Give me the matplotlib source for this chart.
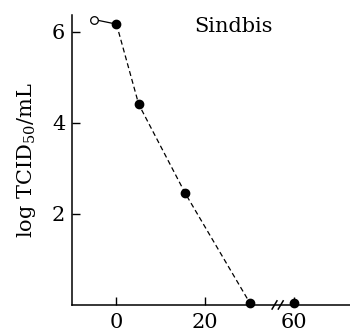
import matplotlib.pyplot as plt

# time in minutes, log TCID50/mL
open_x = [-5]
open_y = [6.27]
filled_x = [0, 5, 15.5, 30, 60]
filled_y = [6.17, 4.41, 2.45, 0.05, 0.05]

xticks = [0, 20, 60]
yticks = [2, 4, 6]


def squash(x):
    # axis is broken between 30 and 60: 60 drawn at position 40
    return x - 20 if x >= 60 else x


plt.rcParams['font.family'] = ['DejaVu Serif']
plt.rcParams['mathtext.fontset'] = 'dejavuserif'

fig = plt.figure(figsize=(3.5, 3.34), dpi=100)
ax = fig.add_axes([0.206, 0.087, 0.794, 0.868])

fx = [squash(x) for x in filled_x]
ax.plot([open_x[0], fx[0]], [open_y[0], filled_y[0]], '-', color='black', lw=0.9)
ax.plot(fx[:4], filled_y[:4], '--', color='black', lw=0.9, dashes=(4, 2.5))
ax.plot(fx, filled_y, 'o', color='black', ms=6, clip_on=False, zorder=5)
ax.plot(open_x, open_y, 'o', mfc='white', mec='black', mew=0.9, ms=5.5,
        clip_on=False, zorder=5)

ax.set_xlim(-10, 52.6)
ax.set_ylim(0, 6.37)
ax.set_xticks([squash(x) for x in xticks])
ax.set_xticklabels([str(x) for x in xticks])
ax.set_yticks(yticks)
ax.tick_params(direction='in', length=6, width=1, labelsize=15)
ax.tick_params(axis='x', pad=6)
ax.tick_params(axis='y', pad=5)
for s in ['top', 'right']:
    ax.spines[s].set_visible(False)
for s in ['left', 'bottom']:
    ax.spines[s].set_linewidth(1.1)

ax.set_ylabel(r'log TCID$_{50}$/mL', fontsize=15, labelpad=10)
ax.text(0.44, 0.96, 'Sindbis', transform=ax.transAxes, fontsize=15,
        ha='left', va='center')

# break marks on the x axis
for bx in [35.6, 37.0]:
    ax.plot([bx - 0.55, bx + 0.55], [-0.09, 0.09], color='black', lw=1.1,
            clip_on=False, zorder=6)

fig.savefig('out.png', dpi=100)
